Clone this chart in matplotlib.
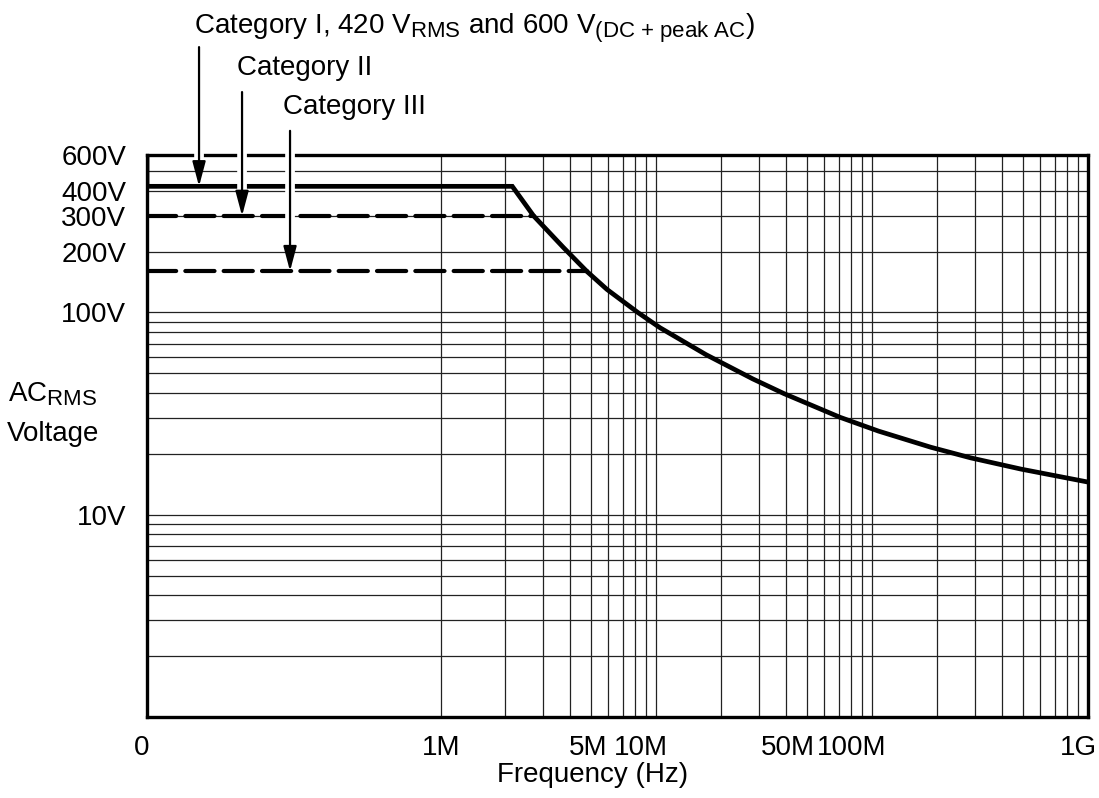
import numpy as np
import matplotlib
matplotlib.use("Agg")
import matplotlib.pyplot as plt
import matplotlib.ticker as mtick
import matplotlib.transforms as mtrans
import matplotlib._mathtext as mathtext_internal

mathtext_internal.SHRINK_FACTOR = 0.8  # subscripts in the original are fairly large
plt.rcParams["font.family"] = ["Liberation Sans", "DejaVu Sans"]
plt.rcParams["mathtext.fontset"] = "custom"
plt.rcParams["mathtext.rm"] = "Liberation Sans"
plt.rcParams["mathtext.it"] = "Liberation Sans:italic"
plt.rcParams["mathtext.bf"] = "Liberation Sans:bold"

# data
xmin = 10**4.64  # left edge, labelled "0"
cat1_level = 420
cat1_peak = 600
cat2_level = 300
cat3_level = 160
freq = [2.15e6, 2.7e6, 3.7e6, 4.75e6, 5.9e6, 8.2e6, 10.4e6, 17e6, 28e6, 39e6,
        71e6, 107e6, 187e6, 286e6, 490e6, 1e9]
volts = [420, 300, 210, 160, 130, 100, 84, 61.8, 46.9, 39.7,
         30.3, 25.9, 21.55, 19.1, 16.8, 14.5]
xticks = [xmin, 1e6, 5e6, 1e7, 5e7, 1e8, 1e9]
xlabels = ["0", "1M", "5M", "10M", "50M", "100M", "1G"]
yticks = [10, 100, 200, 300, 400, 600]
ylabels = ["10V", "100V", "200V", "300V", "400V", "600V"]

fig = plt.figure(figsize=(10.99, 7.98), dpi=100)
ax = fig.add_axes([147/1099, 1-717/798, 941/1099, 562/798])
ax.set_xscale("log")
ax.set_yscale("log")
ax.set_xlim(xmin, 1e9)
ax.set_ylim(1, 600)

ax.xaxis.set_major_locator(mtick.FixedLocator(xticks))
ax.xaxis.set_major_formatter(mtick.FixedFormatter(xlabels))
ax.xaxis.set_minor_locator(mtick.FixedLocator([m*10**e for e in (6, 7, 8) for m in range(1, 10)]))
ax.xaxis.set_minor_formatter(mtick.NullFormatter())
ax.yaxis.set_major_locator(mtick.FixedLocator(yticks))
ax.yaxis.set_major_formatter(mtick.FixedFormatter(ylabels))
ax.yaxis.set_minor_locator(mtick.LogLocator(base=10, subs=np.arange(1, 10), numticks=20))
ax.yaxis.set_minor_formatter(mtick.NullFormatter())
ax.tick_params(which="both", length=0, labelsize=20)
ax.tick_params(axis="x", pad=13)
ax.tick_params(axis="y", pad=15)
ax.grid(which="both", color="#222222", lw=0.9)
ax.set_axisbelow(True)
for s in ax.spines.values():
    s.set_linewidth(2.4)

ax.plot([xmin, xmin, xmin] + freq, [cat1_peak, cat1_level, cat1_level] + volts,
        color="black", lw=3.4, solid_joinstyle="miter", zorder=2)
ax.plot([xmin, freq[1]], [cat2_level, cat2_level], color="black", lw=3,
        dashes=(7, 2.2), dash_capstyle="round", zorder=2)
ax.plot([xmin, freq[3]], [cat3_level, cat3_level], color="black", lw=3,
        dashes=(7, 2.2), dash_capstyle="round", zorder=2)

# category labels and arrows
labels = [r"Category I, 420 V$_{\mathrm{RMS}}$ and 600 V$_{\mathrm{(DC\ {+}\ peak\ AC}}$)",
          "Category II", "Category III"]
text_pos = [(0.050, 1.226), (0.0956, 1.155), (0.1445, 1.085)]
arrow_x = [0.0553, 0.101, 0.152]
arrow_top = [1.192, 1.112, 1.043]
levels = [cat1_level, cat2_level, cat3_level]
for lab, (tx, ty), axx, atop, lev in zip(labels, text_pos, arrow_x, arrow_top, levels):
    ax.text(tx, ty, lab, transform=ax.transAxes, fontsize=20, ha="left", va="center")
    # white gap along the stem where it crosses other lines
    ax.annotate("", xy=(axx, lev), xycoords=("axes fraction", "data"),
                xytext=(axx, atop), textcoords="axes fraction",
                arrowprops=dict(arrowstyle="-", lw=7, color="white",
                                shrinkA=0, shrinkB=17),
                annotation_clip=False, zorder=4)
    ax.annotate("", xy=(axx, lev), xycoords=("axes fraction", "data"),
                xytext=(axx, atop), textcoords="axes fraction",
                arrowprops=dict(arrowstyle="-|>,head_length=0.75,head_width=0.2",
                                mutation_scale=20, lw=1.6, color="black",
                                shrinkA=0, shrinkB=0),
                annotation_clip=False, zorder=5)

fig.text(53/1099, 1-394/798, r"AC$_{\mathrm{RMS}}$", fontsize=20, ha="center", va="center")
fig.text(53/1099, 1-434/798, "Voltage", fontsize=20, ha="center", va="center")
fig.text(593/1099, 1-775/798, "Frequency (Hz)", fontsize=20, ha="center", va="center")

# nudge x tick labels to where the original places them
fig.canvas.draw()
shifts = [-5, 1, -3, -15, -19, -21, -10]
for lbl, dx in zip(ax.get_xticklabels(), shifts):
    lbl.set_transform(lbl.get_transform() + mtrans.ScaledTranslation(dx/100, 0, fig.dpi_scale_trans))

fig.savefig("out.png", dpi=100)
